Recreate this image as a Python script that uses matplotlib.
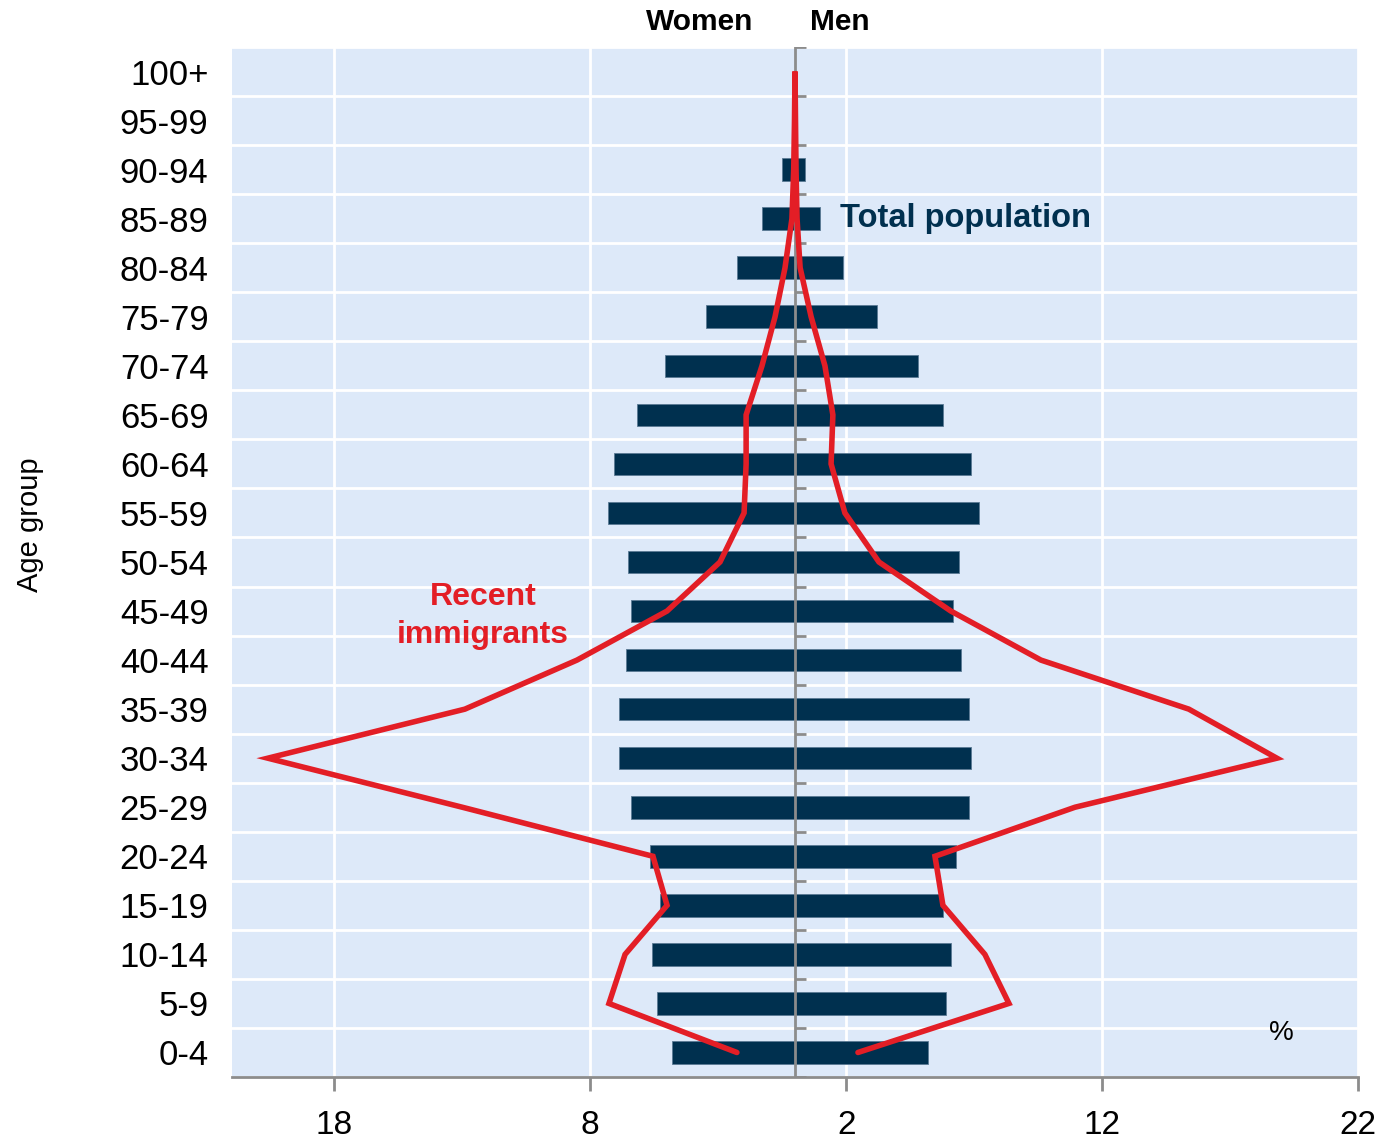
import numpy as np
import matplotlib.pyplot as plt

plt.rcParams['font.family'] = ['Liberation Sans', 'DejaVu Sans']

age_groups = ['0-4', '5-9', '10-14', '15-19', '20-24', '25-29', '30-34', '35-39',
              '40-44', '45-49', '50-54', '55-59', '60-64', '65-69', '70-74',
              '75-79', '80-84', '85-89', '90-94', '95-99', '100+']

# total population, % by sex
total_women = [4.80, 5.39, 5.59, 5.27, 5.66, 6.41, 6.88, 6.88, 6.60, 6.41, 6.52,
               7.30, 7.07, 6.17, 5.08, 3.48, 2.27, 1.29, 0.51, 0.08, 0.01]
total_men = [5.20, 5.90, 6.09, 5.78, 6.29, 6.80, 6.88, 6.80, 6.48, 6.17, 6.41,
             7.19, 6.88, 5.78, 4.80, 3.20, 1.88, 0.98, 0.39, 0.05, 0.01]

# recent immigrants, % by sex
imm_women = [2.27, 7.27, 6.64, 5.00, 5.55, 13.0, 20.6, 12.9, 8.52, 5.00, 2.93,
             1.99, 1.91, 1.91, 1.29, 0.78, 0.39, 0.12, 0.05, 0.02, 0.0]
imm_men = [2.46, 8.36, 7.42, 5.78, 5.47, 10.94, 18.83, 15.39, 9.61, 6.09, 3.28,
           1.95, 1.41, 1.48, 1.17, 0.63, 0.20, 0.08, 0.04, 0.02, 0.0]

xticks = [-18, -8, 2, 12, 22]

navy = '#00304f'
red = '#e31e26'
bg = '#dde9f9'
gray = '#8c8c8c'

fig = plt.figure(figsize=(13.85, 11.47), dpi=100)
ax = fig.add_axes([232/1385, 1 - 1077/1147, (1358 - 232)/1385, (1077 - 47)/1147])
ax.set_facecolor(bg)

y = np.arange(len(age_groups))
bounds = np.arange(len(age_groups) + 1) - 0.5

ax.barh(y, -np.array(total_women), height=0.46, color=navy, edgecolor='#5a7a94',
        linewidth=0.6, zorder=3)
ax.barh(y, total_men, height=0.46, color=navy, edgecolor='#5a7a94',
        linewidth=0.6, zorder=3)

# central axis with small ticks at age group boundaries
ax.axvline(0, color=gray, lw=2, zorder=4)
ax.hlines(bounds, 0, 0.42, color=gray, lw=2, zorder=4)

# immigrants outline: up the women's side, back down the men's side
line_x = np.concatenate([-np.array(imm_women), np.array(imm_men)[::-1]])
line_y = np.concatenate([y, y[::-1]])
ax.plot(line_x, line_y, color=red, lw=4, solid_capstyle='round',
        solid_joinstyle='miter', zorder=5)

ax.set_xlim(-22, 22)
ax.set_ylim(-0.5, len(age_groups) - 0.5)

ax.set_xticks(xticks)
ax.set_xticklabels([str(abs(t)) for t in xticks], fontsize=24)
ax.set_yticks(y)
ax.set_yticklabels(age_groups, fontsize=25)
ax.set_yticks(bounds, minor=True)

ax.tick_params(axis='x', direction='out', length=10, width=2, color=gray, pad=14)
ax.tick_params(axis='y', which='both', length=0, pad=17)

ax.grid(axis='x', which='major', color='white', lw=2, zorder=1)
ax.grid(axis='y', which='minor', color='white', lw=2, zorder=1)
ax.set_axisbelow(True)

for side in ['left', 'right', 'top']:
    ax.spines[side].set_visible(False)
ax.spines['bottom'].set_color(gray)
ax.spines['bottom'].set_linewidth(2)

fig.text(30/1385, 1 - 525/1147, 'Age group', fontsize=21, rotation=90,
         ha='center', va='center')

fig.text(700/1385, 1 - 22/1147, 'Women', fontsize=21.5, fontweight='bold',
         ha='center', va='center')
fig.text(840/1385, 1 - 22/1147, 'Men', fontsize=21.5, fontweight='bold',
         ha='center', va='center')

ax.text(1.75, y[17], 'Total population', fontsize=23.5, fontweight='bold',
        color=navy, ha='left', va='center', zorder=6)
ax.text(-12.2, 8.9, 'Recent\nimmigrants', fontsize=23, fontweight='bold',
        color=red, ha='center', va='center', linespacing=1.35, zorder=6)
ax.text(19.0, 0.4, '%', fontsize=20, ha='center', va='center', zorder=6)

fig.savefig('out.png', dpi=100)
